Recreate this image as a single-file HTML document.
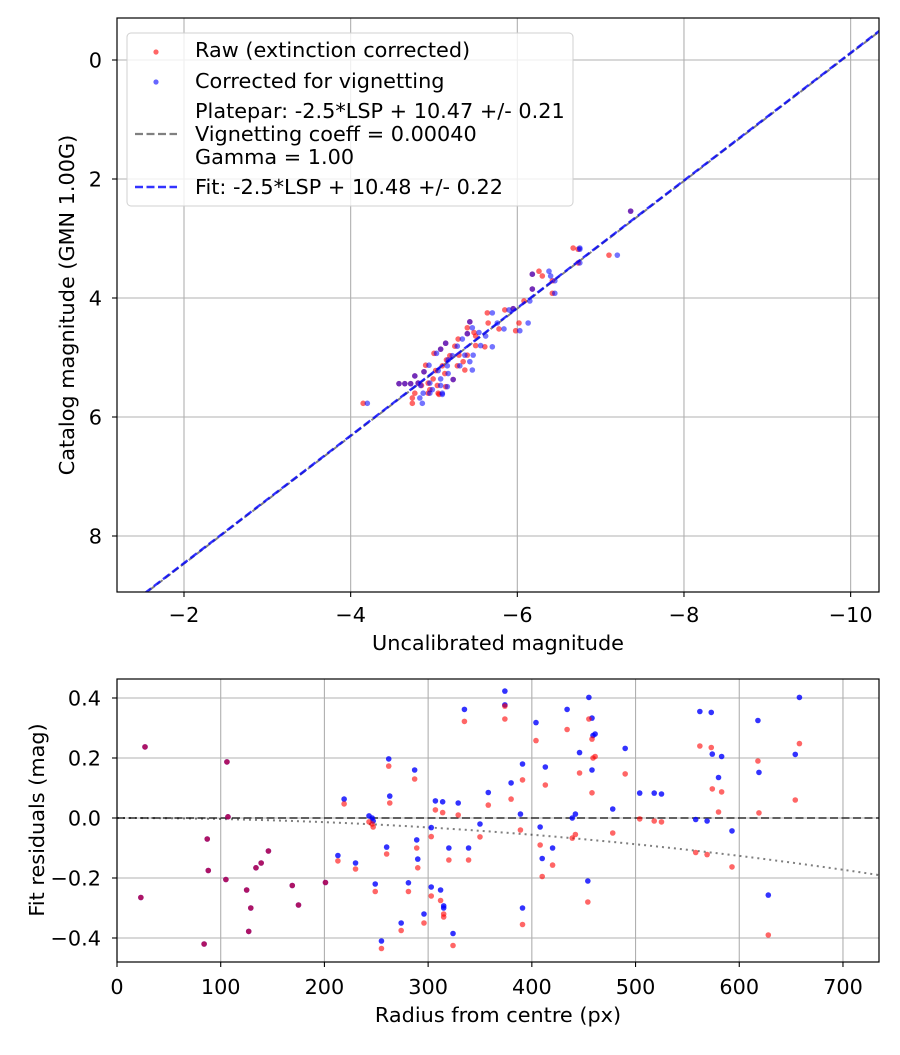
<!DOCTYPE html>
<html><head><meta charset="utf-8">
<style>
html,body{margin:0;padding:0;background:#fff;}
svg text{font-family:"DejaVu Sans","Liberation Sans",sans-serif;fill:#000;}
</style></head>
<body>
<svg id="fig" width="900" height="1050" viewBox="0 0 900 1050" xmlns="http://www.w3.org/2000/svg"></svg>
<script>
// ---- Top chart data ----
const catMag = [2.54,3.16,3.18,3.28,3.41,3.6,3.55,3.63,3.71,3.85,3.92,4.05,4.2,4.18,4.25,4.42,4.52,4.55,4.42,4.4,4.5,4.6,4.58,4.64,4.69,4.76,4.81,4.82,4.8,4.86,4.93,4.97,4.96,4.96,5.04,5.07,5.14,5.14,5.13,5.21,5.24,5.22,5.27,5.36,5.31,5.37,5.43,5.44,5.44,5.44,5.43,5.47,5.47,5.49,5.54,5.6,5.6,5.68,5.77,5.77,5.6,5.62];
const rawMag = [-7.36,-6.67,-6.73,-7.1,-6.73,-6.18,-6.26,-6.3,-6.42,-6.18,-6.42,-6.08,-5.85,-5.95,-5.64,-5.65,-5.78,-5.98,-6.02,-5.43,-5.4,-5.4,-5.48,-5.5,-5.29,-5.14,-5.25,-5.61,-5.5,-5.08,-5.0,-5.19,-5.3,-5.4,-5.15,-5.35,-5.28,-5.1,-4.9,-5.37,-4.88,-5.02,-5.13,-4.99,-4.77,-5.23,-4.93,-4.58,-4.65,-4.72,-4.81,-4.85,-5.04,-5.14,-4.95,-4.77,-5.05,-4.74,-4.74,-4.15,-4.93,-5.06];
const corMag = [-7.36,-6.75,-6.75,-7.2,-6.75,-6.18,-6.38,-6.4,-6.45,-6.18,-6.45,-6.15,-5.9,-5.95,-5.7,-5.76,-5.84,-6.03,-6.13,-5.43,-5.46,-5.4,-5.54,-5.62,-5.34,-5.14,-5.28,-5.7,-5.56,-5.08,-5.03,-5.22,-5.37,-5.47,-5.17,-5.43,-5.31,-5.16,-4.94,-5.46,-4.88,-5.05,-5.17,-5.08,-4.77,-5.23,-4.95,-4.58,-4.65,-4.72,-4.81,-4.84,-5.08,-5.16,-4.98,-4.87,-5.1,-4.83,-4.86,-4.2,-4.95,-5.1];
const fitSlope = 1.072, fitIntercept = 10.6;
const topXTicks = [-2,-4,-6,-8,-10];
const topYTicks = [0,2,4,6,8];
// ---- Bottom chart data ----
const radius = [27,23,106,107,87,88,84,105,125,129,127,134,139,146,169,175,201,219,213,230,243,246,247,262,263,260,249,255,274,281,287,289,290,296,303,303,307,314,312,315,315,324,329,320,335,339,350,358,374,374,380,389,391,391,404,408,410,413,420,434,439,442,446,454,455,458,459,461,458,478,490,504,518,525,558,562,569,573,574,583,580,593,618,619,628,654,658];
const resRaw = [0.237,-0.265,0.187,0.004,-0.07,-0.175,-0.42,-0.205,-0.24,-0.30,-0.378,-0.166,-0.15,-0.11,-0.225,-0.29,-0.215,0.047,-0.143,-0.17,-0.013,-0.02,-0.03,0.173,0.05,-0.12,-0.245,-0.435,-0.375,-0.245,0.13,-0.1,-0.166,-0.35,-0.062,-0.26,0.027,0.018,-0.275,-0.32,-0.33,-0.425,0.01,-0.14,0.322,-0.14,-0.063,0.043,0.373,0.33,0.063,-0.04,0.127,-0.355,0.258,-0.09,-0.195,0.11,-0.157,0.295,-0.067,-0.055,0.15,-0.28,0.33,0.263,0.2,0.205,0.084,-0.05,0.147,-0.003,-0.01,-0.013,-0.115,0.24,-0.122,0.235,0.097,0.087,0.02,-0.163,0.19,0.017,-0.39,0.06,0.248];
const resCor = [0.237,-0.265,0.187,0.004,-0.07,-0.175,-0.42,-0.205,-0.24,-0.30,-0.378,-0.166,-0.15,-0.11,-0.225,-0.29,-0.215,0.063,-0.125,-0.15,0.007,0.0,-0.01,0.197,0.073,-0.097,-0.22,-0.41,-0.35,-0.216,0.16,-0.073,-0.137,-0.32,-0.032,-0.23,0.057,0.054,-0.24,-0.293,-0.3,-0.385,0.05,-0.1,0.362,-0.1,-0.02,0.085,0.423,0.377,0.117,0.013,0.18,-0.3,0.318,-0.03,-0.135,0.17,-0.1,0.362,0.0,0.013,0.218,-0.21,0.402,0.333,0.275,0.28,0.16,0.03,0.232,0.083,0.083,0.08,-0.005,0.355,-0.01,0.352,0.213,0.205,0.135,-0.043,0.325,0.152,-0.257,0.212,0.402];
const vigCoeff = 0.0004;
const botXTicks = [0,100,200,300,400,500,600,700];
const botYTicks = [0.4,0.2,0.0,-0.2,-0.4];

const NS = "http://www.w3.org/2000/svg";
const svg = document.getElementById('fig');
const FS = 20.8;
function mk(tag, attrs, parent){const e=document.createElementNS(NS,tag);for(const k in attrs)e.setAttribute(k,attrs[k]);(parent||svg).appendChild(e);return e;}
function fmt(v){return (v<0?'\u2212':'')+Math.abs(v);}

const T={l:117,r:879,t:18,b:592};
const tx=v=>184+(-2-v)*83.33;
const ty=v=>60+v*59.5;
const B={l:117,r:879,t:679,b:962};
const bx=v=>117+v*1.0371;
const by=v=>818-v*300;

mk('defs',{}).innerHTML='<clipPath id="ct"><rect x="117" y="18" width="762" height="574"/></clipPath><clipPath id="cb"><rect x="117" y="679" width="762" height="283"/></clipPath>';

// ===== TOP =====
const gTop=mk('g',{});


topXTicks.forEach(v=>{
  const x=tx(v);
  const g=mk('line',{x1:x,x2:x,y1:T.t,y2:T.b,stroke:'#b0b0b0','stroke-width':1.1},gTop);
  
  mk('line',{x1:x,x2:x,y1:T.b,y2:T.b+5,stroke:'#000','stroke-width':1.1},gTop);
  const t=mk('text',{x:x,y:622,'text-anchor':'middle','font-size':FS},gTop);t.textContent=fmt(v);
  
});
topYTicks.forEach(v=>{
  const y=ty(v);
  const g=mk('line',{x1:T.l,x2:T.r,y1:y,y2:y,stroke:'#b0b0b0','stroke-width':1.1},gTop);
  
  mk('line',{x1:T.l-5,x2:T.l,y1:y,y2:y,stroke:'#000','stroke-width':1.1},gTop);
  const t=mk('text',{x:102,y:y+7.5,'text-anchor':'end','font-size':FS},gTop);t.textContent=fmt(v);
  
});
const gtc=mk('g',{'clip-path':'url(#ct)'},gTop);
const xa=-1.2,xb=-10.5;
const pl=mk('line',{x1:tx(xa),y1:ty(fitSlope*xa+fitIntercept+0.01),x2:tx(xb),y2:ty(fitSlope*xb+fitIntercept+0.01),stroke:'#808080','stroke-width':2,'stroke-dasharray':'7,3'},gtc);

catMag.forEach((c,i)=>{
  const d=mk('circle',{cx:tx(rawMag[i]),cy:ty(c),r:2.8,fill:'#ff0000','fill-opacity':0.6},gtc);
  
});
catMag.forEach((c,i)=>{
  const d=mk('circle',{cx:tx(corMag[i]),cy:ty(c),r:2.8,fill:'#0000ff','fill-opacity':0.55},gtc);
  
});
const fl=mk('line',{x1:tx(xa),y1:ty(fitSlope*xa+fitIntercept),x2:tx(xb),y2:ty(fitSlope*xb+fitIntercept),stroke:'#0000ff','stroke-opacity':0.8,'stroke-width':2.4,'stroke-dasharray':'8,3.5'},gtc);

mk('rect',{x:T.l,y:T.t,width:T.r-T.l,height:T.b-T.t,fill:'none',stroke:'#000','stroke-width':1.2},gTop);
let t=mk('text',{x:498,y:650,'text-anchor':'middle','font-size':FS},gTop);t.textContent='Uncalibrated magnitude';

t=mk('text',{x:0,y:0,'text-anchor':'middle','font-size':FS,transform:'translate(74,305) rotate(-90)'},gTop);t.textContent='Catalog magnitude (GMN 1.00G)';


const lg=mk('g',{},gTop);

mk('rect',{x:127,y:33,width:446,height:173,rx:4,fill:'#fff','fill-opacity':0.8,stroke:'#d0d0d0','stroke-width':1},lg);
mk('circle',{cx:156,cy:52,r:2.6,fill:'#ff0000','fill-opacity':0.6},lg);
mk('circle',{cx:156,cy:82,r:2.6,fill:'#0000ff','fill-opacity':0.6},lg);
mk('line',{x1:135,x2:177,y1:134,y2:134,stroke:'#808080','stroke-width':2.2,'stroke-dasharray':'8,3.5'},lg);
mk('line',{x1:135,x2:177,y1:187,y2:187,stroke:'#0000ff','stroke-opacity':0.8,'stroke-width':2.4,'stroke-dasharray':'8,3.5'},lg);
[['Raw (extinction corrected)',57],['Corrected for vignetting',88],['Platepar: -2.5*LSP + 10.47 +/- 0.21',118],['Vignetting coeff = 0.00040',141],['Gamma = 1.00',164],['Fit: -2.5*LSP + 10.48 +/- 0.22',194]].forEach(([s,y])=>{
  const e=mk('text',{x:195,y:y,'font-size':FS},lg);e.textContent=s;
  
});

// ===== BOTTOM =====
const gB=mk('g',{});


botXTicks.forEach(v=>{
  const x=bx(v);
  const g=mk('line',{x1:x,x2:x,y1:B.t,y2:B.b,stroke:'#b0b0b0','stroke-width':1.1},gB);
  
  mk('line',{x1:x,x2:x,y1:B.b,y2:B.b+5,stroke:'#000','stroke-width':1.1},gB);
  const e=mk('text',{x:x,y:994,'text-anchor':'middle','font-size':FS},gB);e.textContent=v;
  
});
botYTicks.forEach(v=>{
  const y=by(v);
  const g=mk('line',{x1:B.l,x2:B.r,y1:y,y2:y,stroke:'#b0b0b0','stroke-width':1.1},gB);
  
  mk('line',{x1:B.l-5,x2:B.l,y1:y,y2:y,stroke:'#000','stroke-width':1.1},gB);
  const e=mk('text',{x:101,y:y+7.5,'text-anchor':'end','font-size':FS},gB);
  e.textContent=(v<0?'\u2212':'')+Math.abs(v).toFixed(1);
  
});
const gbc=mk('g',{'clip-path':'url(#cb)'},gB);
const z=mk('line',{x1:B.l,x2:B.r,y1:by(0),y2:by(0),stroke:'#000','stroke-opacity':0.55,'stroke-width':2,'stroke-dasharray':'8,3.5'},gbc);

let pts=[];for(let r=0;r<=740;r+=10){pts.push(bx(r)+','+by(10*Math.log10(Math.cos(vigCoeff*r))));}
const vc=mk('polyline',{points:pts.join(' '),fill:'none',stroke:'#000','stroke-opacity':0.5,'stroke-width':2,'stroke-dasharray':'2,4'},gbc);

radius.forEach((r,i)=>{
  const d=mk('circle',{cx:bx(r),cy:by(resCor[i]),r:2.8,fill:'#0000ff','fill-opacity':0.8},gbc);
  
});
radius.forEach((r,i)=>{
  const d=mk('circle',{cx:bx(r),cy:by(resRaw[i]),r:2.8,fill:'#ff0000','fill-opacity':0.6},gbc);
  
});
mk('rect',{x:B.l,y:B.t,width:B.r-B.l,height:B.b-B.t,fill:'none',stroke:'#000','stroke-width':1.2},gB);
t=mk('text',{x:498,y:1022,'text-anchor':'middle','font-size':FS},gB);t.textContent='Radius from centre (px)';

t=mk('text',{x:0,y:0,'text-anchor':'middle','font-size':FS,transform:'translate(44,820) rotate(-90)'},gB);t.textContent='Fit residuals (mag)';

</script>
</body></html>
